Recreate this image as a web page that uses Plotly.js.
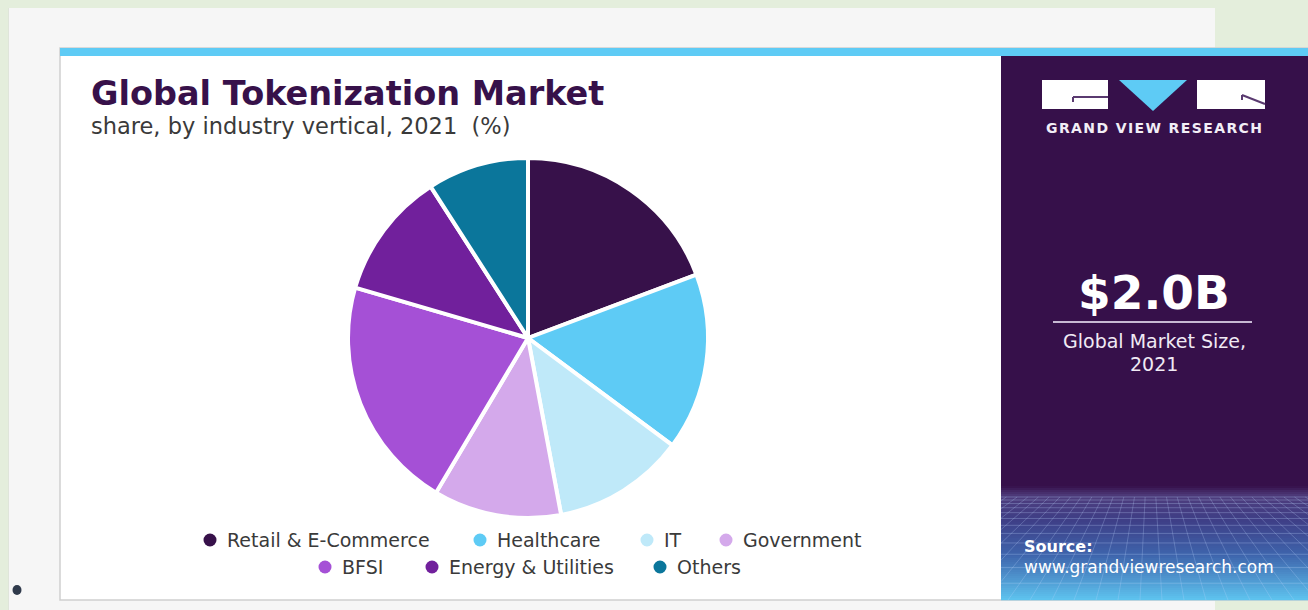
<!DOCTYPE html>
<html>
<head>
<meta charset="utf-8">
<script src="https://cdn.plot.ly/plotly-3.0.1.min.js"></script>
<style>
  html, body { margin: 0; padding: 0; background: #e4eedc; }
  #chart { width: 1308px; height: 610px; }
</style>
</head>
<body>
<div id="chart"></div>
<script>
// ---- data ----
const categories = ['Retail & E-Commerce', 'Healthcare', 'IT', 'Government', 'BFSI', 'Energy & Utilities', 'Others'];
const shares = [19.3, 15.9, 11.9, 11.5, 21.0, 11.4, 9.1];
const sliceColors = ['#37114a', '#5ecbf5', '#bfe9f9', '#d4a9eb', '#a550d6', '#71209c', '#0b769b'];
const titleText = 'Global Tokenization Market';
const subtitleText = 'share, by industry vertical, 2021 \u00a0(%)';
const marketSize = '$2.0B';
const marketLabel1 = 'Global Market Size,';
const marketLabel2 = '2021';

// ---- layout helpers (pixel space, y downward) ----
const W = 1308, H = 610;
const pieCx = 528, pieCy = 338, pieR = 180;
const legendPos = [[210, 540], [480, 540], [647, 540], [726, 540], [325, 567], [432, 567], [660, 567]];

const shapes = [];
const annotations = [];
function rect(x0, y0, x1, y1, fill, line) {
  shapes.push({type: 'rect', xref: 'x', yref: 'y', x0, y0, x1, y1, fillcolor: fill,
    line: line || {width: 0}, layer: 'below'});
}
function lineSeg(x0, y0, x1, y1, color, width) {
  shapes.push({type: 'line', xref: 'x', yref: 'y', x0, y0, x1, y1, line: {color, width}, layer: 'below'});
}
function text(x, y, t, size, color, anchor, family) {
  annotations.push({xref: 'x', yref: 'y', x, y, text: t, showarrow: false, xanchor: anchor || 'left',
    yanchor: 'middle', font: {family: family || 'DejaVu Sans', size, color}});
}

// page background panels
rect(8, 8, 1215, 610, '#f6f6f6');
lineSeg(8.5, 8, 8.5, 610, '#dfe5da', 1);
rect(60, 48, 1312, 600, '#ffffff', {color: '#cfcfcf', width: 1.5});
rect(60, 48, 1312, 56, '#5ecbf5');
rect(1001, 56, 1312, 600, '#36104a');

// gradient grid region at bottom of purple panel
const stops = [[486, [54, 16, 74]], [496, [78, 60, 124]], [520, [62, 62, 134]], [555, [62, 100, 172]], [600, [94, 196, 239]]];
function colAt(y) {
  for (let i = 0; i < stops.length - 1; i++) {
    const [ya, ca] = stops[i], [yb, cb] = stops[i + 1];
    if (y >= ya && y <= yb) {
      const t = (y - ya) / (yb - ya);
      return 'rgb(' + ca.map((c, k) => Math.round(c + (cb[k] - c) * t)).join(',') + ')';
    }
  }
  return 'rgb(94,196,239)';
}
for (let y = 486; y < 600; y += 2) rect(1001, y, 1312, y + 2.2, colAt(y + 1));
// perspective grid
let gy = 497, step = 3;
while (gy < 600) { lineSeg(1001, gy, 1312, gy, 'rgba(190,215,255,0.28)', 1); gy += step; step *= 1.18; }
const vx = 1150, vy = 400, gTop = 497, gBot = 600, gLeft = 1001;
for (let xb = 700; xb <= 1620; xb += 22) {
  const xa = vx + (xb - vx) * (gTop - vy) / (gBot - vy);
  let x0 = xa, y0 = gTop, x1 = xb, y1 = gBot;
  if (x0 < gLeft && x1 < gLeft) continue;
  if (x1 < gLeft) { const t = (gLeft - x0) / (x1 - x0); x1 = gLeft; y1 = gTop + t * (gBot - gTop); }
  if (x0 < gLeft) { const t = (gLeft - x0) / (x1 - x0); x0 = gLeft; y0 = gTop + t * (gBot - gTop); }
  lineSeg(x0, y0, x1, y1, 'rgba(190,215,255,0.25)', 1);
}

// logo
rect(1042, 80, 1108, 109, '#ffffff');
rect(1197, 80, 1265, 109, '#ffffff');
shapes.push({type: 'path', xref: 'x', yref: 'y', path: 'M1119,80 L1187,80 L1153,111 Z', fillcolor: '#5ecbf5', line: {width: 0}, layer: 'below'});
lineSeg(1073, 97, 1108, 97, '#5a3a70', 2);
lineSeg(1073, 97, 1073, 102, '#5a3a70', 2);
lineSeg(1242, 95, 1265, 104, '#5a3a70', 2);
lineSeg(1242, 95, 1242, 100, '#5a3a70', 2);

// divider under market size
lineSeg(1053, 322, 1252, 322, 'rgba(225,215,235,0.85)', 2);

// bullet
shapes.push({type: 'circle', xref: 'x', yref: 'y', x0: 12.5, y0: 585, x1: 21.5, y1: 595, fillcolor: '#2f3a4b', line: {width: 0}, layer: 'below'});

// texts
text(89, 93, '<b>' + titleText + '</b>', 33.5, '#37114a');
text(89, 126, subtitleText, 22.5, '#3a3a3a');
text(1153.5, 128, '<b>' + 'GRAND VIEW RESEARCH'.split('').join('\u200a') + '</b>', 14, '#f2eef6', 'center');
text(1154, 292, '<b>' + marketSize + '</b>', 47, '#ffffff', 'center');
text(1154, 341, marketLabel1, 19, '#f0eaf4', 'center');
text(1154, 364, marketLabel2, 19, '#f0eaf4', 'center');
text(1022, 546, '<b>Source:</b>', 16, '#ffffff');
text(1022, 567, 'www.grandviewresearch.com', 17, '#ffffff');

// legend built from categories
categories.forEach((c, i) => {
  const [lx, ly] = legendPos[i];
  shapes.push({type: 'circle', xref: 'x', yref: 'y', x0: lx - 6.5, y0: ly - 6.5, x1: lx + 6.5, y1: ly + 6.5,
    fillcolor: sliceColors[i], line: {width: 0}, layer: 'below'});
  text(lx + 15, ly, c, 19, '#3a3a3a');
});

const pie = {
  type: 'pie',
  labels: categories,
  values: shares,
  sort: false,
  direction: 'clockwise',
  rotation: 0,
  textinfo: 'none',
  marker: {colors: sliceColors, line: {color: '#ffffff', width: 4}},
  domain: {x: [(pieCx - pieR) / W, (pieCx + pieR) / W], y: [1 - (pieCy + pieR) / H, 1 - (pieCy - pieR) / H]},
  showlegend: false,
  hoverinfo: 'label+percent'
};

const layout = {
  width: W, height: H,
  margin: {l: 0, r: 0, t: 0, b: 0, pad: 0},
  paper_bgcolor: '#e4eedc',
  plot_bgcolor: 'rgba(0,0,0,0)',
  showlegend: false,
  xaxis: {range: [0, W], visible: false, fixedrange: true, domain: [0, 1]},
  yaxis: {range: [H, 0], visible: false, fixedrange: true, domain: [0, 1]},
  shapes, annotations
};

Plotly.newPlot('chart', [pie], layout, {displayModeBar: false, staticPlot: true});
</script>
</body>
</html>
